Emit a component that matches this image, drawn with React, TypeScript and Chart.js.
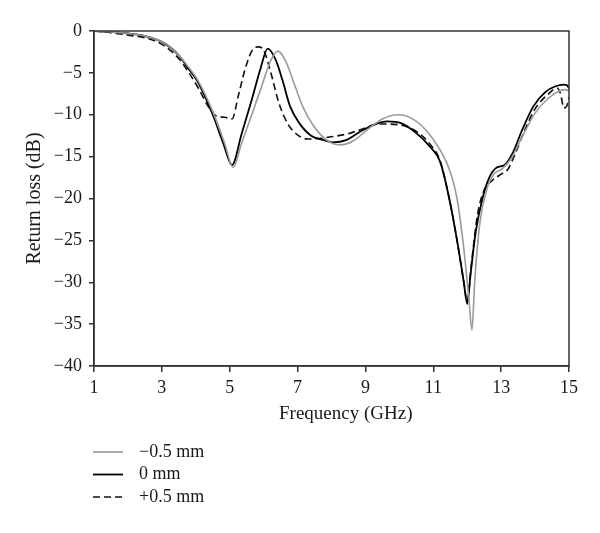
import { useEffect, useRef } from "react";
import { Chart, registerables } from "chart.js";

Chart.register(...registerables);

// ---- data ----
const freqMinus = [1, 1.5, 2, 2.5, 3, 3.5, 3.8, 4.05, 4.5, 4.85, 5.1, 5.35, 5.65, 5.95, 6.2, 6.42, 6.65, 6.9, 7.15, 7.45, 7.85, 8.25, 8.65, 9.05, 9.5, 9.95, 10.35, 10.8, 11.2, 11.5, 11.7, 11.9, 12.05, 12.14, 12.22, 12.37, 12.57, 12.8, 13.02, 13.3, 13.6, 14.0, 14.4, 14.75, 14.9, 15];
const lossMinus = [0, -0.1, -0.3, -0.6, -1.3, -2.9, -4.4, -5.8, -9.6, -13.4, -16.3, -13.4, -10.0, -6.5, -3.6, -2.4, -3.6, -6.3, -9.0, -11.2, -13.0, -13.6, -13.1, -11.8, -10.5, -10.0, -10.4, -11.9, -14.2, -16.8, -20, -26, -32, -35.7, -30, -23, -19, -17, -16.5, -15.2, -12.8, -9.8, -8.0, -7.1, -7.0, -7.2];

const freqZero = [1, 1.5, 2, 2.5, 3, 3.5, 3.8, 4.05, 4.5, 4.8, 5.07, 5.35, 5.65, 5.9, 6.12, 6.35, 6.55, 6.78, 7.05, 7.4, 7.75, 8.05, 8.45, 8.85, 9.25, 9.65, 10.05, 10.5, 10.9, 11.2, 11.47, 11.7, 11.9, 12.0, 12.1, 12.25, 12.45, 12.65, 12.87, 13.1, 13.35, 13.6, 13.95, 14.3, 14.6, 14.85, 14.95, 15];
const lossZero = [0, -0.1, -0.3, -0.6, -1.3, -2.9, -4.6, -6.0, -10.0, -13.3, -16.0, -12.3, -8.2, -4.6, -2.1, -3.4, -5.8, -9.0, -11.0, -12.5, -13.0, -13.3, -13.0, -12.0, -11.2, -10.8, -11.0, -12.2, -13.8, -15.6, -20, -25, -30, -32.6, -29, -24, -20, -17.5, -16.3, -16.0, -14.5, -12.0, -9.0, -7.3, -6.6, -6.4, -6.5, -6.9];

const freqPlus = [1, 1.5, 2, 2.5, 3, 3.5, 3.8, 4.1, 4.35, 4.63, 4.85, 5.07, 5.25, 5.45, 5.65, 5.83, 6.0, 6.2, 6.45, 6.7, 7.0, 7.3, 7.7, 8.05, 8.45, 8.85, 9.4, 10.0, 10.5, 10.9, 11.2, 11.47, 11.7, 11.9, 12.0, 12.12, 12.3, 12.5, 12.75, 13.0, 13.2, 13.4, 13.7, 14.0, 14.4, 14.65, 14.75, 14.85, 14.93, 15];
const lossPlus = [0, -0.2, -0.5, -0.8, -1.6, -3.3, -5.0, -7.0, -8.9, -10.2, -10.3, -10.5, -7.8, -4.6, -2.4, -1.9, -2.3, -4.8, -8.6, -11.0, -12.4, -12.9, -12.8, -12.6, -12.3, -11.8, -11.1, -11.2, -12.0, -13.5, -15.5, -20, -25, -30, -32.3, -28, -22, -19, -17.8, -17.1, -16.5, -14.8, -11.8, -9.3, -7.5, -6.8, -7.5, -9.2, -9.0, -7.9];

const seriesLabels = ["\u22120.5 mm", "0 mm", "+0.5 mm"];
const xMin = 1;
const xMax = 15;
const xStep = 2;
const yMin = -40;
const yMax = 0;
const yStep = 5;
const xTitle = "Frequency (GHz)";
const yTitle = "Return loss (dB)";

const FONT = "'Liberation Serif', 'Times New Roman', serif";

export default function App() {
  const ref = useRef<HTMLCanvasElement>(null);

  useEffect(() => {
    if (!ref.current) return;
    const pts = (xs: number[], ys: number[]) => xs.map((x, i) => ({ x, y: ys[i] }));

    const extras = {
      id: "extras",
      afterDraw(chart: any) {
        const { ctx, chartArea: a } = chart;
        ctx.save();
        // frame box
        ctx.strokeStyle = "#333";
        ctx.lineWidth = 1.5;
        ctx.setLineDash([]);
        ctx.strokeRect(a.left, a.top, a.right - a.left, a.bottom - a.top);
        // x title
        ctx.fillStyle = "#1a1a1a";
        ctx.font = `19px ${FONT}`;
        ctx.textAlign = "center";
        ctx.textBaseline = "alphabetic";
        ctx.fillText(xTitle, a.left + (a.right - a.left) * 0.53, a.bottom + 53);
        // legend
        ctx.font = `18px ${FONT}`;
        ctx.textAlign = "left";
        ctx.textBaseline = "middle";
        chart.data.datasets.forEach((ds: any, i: number) => {
          const y = 452 + i * 22.5;
          ctx.strokeStyle = ds.borderColor;
          ctx.lineWidth = ds.borderWidth;
          ctx.setLineDash(ds.borderDash || []);
          ctx.beginPath();
          ctx.moveTo(93, y);
          ctx.lineTo(123, y);
          ctx.stroke();
          ctx.fillText(ds.label, 139, y);
        });
        ctx.restore();
      },
    };

    const chart = new Chart(ref.current, {
      type: "line",
      data: {
        datasets: [
          {
            label: seriesLabels[0],
            data: pts(freqMinus, lossMinus),
            borderColor: "#9a9a9a",
            borderWidth: 1.6,
            pointRadius: 0,
            cubicInterpolationMode: "monotone",
          },
          {
            label: seriesLabels[1],
            data: pts(freqZero, lossZero),
            borderColor: "#000000",
            borderWidth: 1.8,
            pointRadius: 0,
            cubicInterpolationMode: "monotone",
          },
          {
            label: seriesLabels[2],
            data: pts(freqPlus, lossPlus),
            borderColor: "#111111",
            borderWidth: 1.6,
            borderDash: [7, 4],
            pointRadius: 0,
            cubicInterpolationMode: "monotone",
          },
        ],
      },
      options: {
        responsive: false,
        animation: false,
        devicePixelRatio: 1,
        layout: { padding: { top: 31, right: 31, bottom: 108, left: 0 } },
        plugins: {
          legend: { display: false },
          tooltip: { enabled: false },
        },
        scales: {
          x: {
            type: "linear",
            min: xMin,
            max: xMax,
            ticks: {
              stepSize: xStep,
              color: "#1a1a1a",
              font: { family: FONT, size: 18 },
              padding: 5,
              maxRotation: 0,
            },
            grid: {
              display: true,
              drawOnChartArea: false,
              drawTicks: true,
              tickLength: 6,
              color: "#333",
              lineWidth: 1.5,
            },
            border: { display: true, color: "#333", width: 1.5 },
            afterFit: (s: any) => {
              s.height = 59;
            },
          },
          y: {
            type: "linear",
            min: yMin,
            max: yMax,
            ticks: {
              stepSize: yStep,
              color: "#1a1a1a",
              font: { family: FONT, size: 18 },
              padding: 7,
              callback: (v: any) => String(v).replace("-", "\u2212"),
            },
            grid: {
              display: true,
              drawOnChartArea: false,
              drawTicks: true,
              tickLength: 5,
              color: "#333",
              lineWidth: 1.5,
            },
            border: { display: true, color: "#333", width: 1.5 },
            title: {
              display: true,
              text: yTitle,
              color: "#1a1a1a",
              font: { family: FONT, size: 20 },
              padding: { top: 23, bottom: 0 },
            },
            afterFit: (s: any) => {
              s.width = 94;
            },
          },
        },
      },
      plugins: [extras],
    });

    return () => chart.destroy();
  }, []);

  return (
    <div style={{ position: "absolute", left: 0, top: 0, width: 600, height: 533, background: "#fff" }}>
      <canvas ref={ref} width={600} height={533} />
    </div>
  );
}
